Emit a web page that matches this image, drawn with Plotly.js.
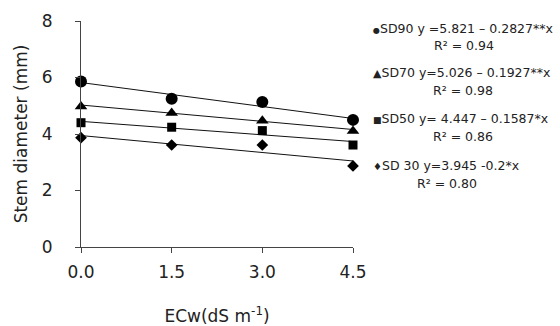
<!DOCTYPE html>
<html>
<head>
<meta charset="utf-8">
<script src="https://cdn.plot.ly/plotly-3.0.1.min.js"></script>
<style>html,body{margin:0;padding:0;background:#fff;}#chart{width:560px;height:326px;}</style>
</head>
<body>
<div id="chart"></div>
<script>
// ECw levels (dS m-1)
const ecw = [0, 1.5, 3.0, 4.5];
// Observed stem diameter (mm)
const sd90 = [5.86, 5.25, 5.13, 4.50];
const sd70 = [4.97, 4.74, 4.47, 4.11];
const sd50 = [4.40, 4.24, 4.12, 3.61];
const sd30 = [3.87, 3.61, 3.61, 2.87];
// Regression coefficients (y = a + b*x)
const intercepts = [5.821, 5.026, 4.447, 3.945];
const slopes = [-0.2827, -0.1927, -0.1587, -0.2];
// Equation labels
const bullets = ["●", "▲", "■", "♦"];
const eqLabels = [
  "SD90 y =5.821 – 0.2827**x",
  "SD70 y=5.026 – 0.1927**x",
  "SD50 y= 4.447 – 0.1587*x",
  "SD 30 y=3.945 -0.2*x"
];
const r2Labels = ["R² = 0.94", "R² = 0.98", "R² = 0.86", "R² = 0.80"];
const yTicks = [0, 2, 4, 6, 8];

const series = [sd90, sd70, sd50, sd30];
const symbols = ["circle", "triangle-up", "square", "diamond"];
const sizes = [12, 11, 9, 9];
const bulletSizes = [8, 11, 9, 10];
const FONT = "DejaVu Sans";

const traces = [];
const xEnds = [ecw[0], ecw[ecw.length - 1]];
for (let i = 0; i < series.length; i++) {
  traces.push({
    x: xEnds,
    y: xEnds.map(x => intercepts[i] + slopes[i] * x),
    mode: "lines",
    line: {color: "#111", width: 1},
    hoverinfo: "skip",
    cliponaxis: false,
    showlegend: false
  });
}
for (let i = 0; i < series.length; i++) {
  traces.push({
    x: ecw,
    y: series[i],
    mode: "markers",
    marker: {symbol: symbols[i], size: sizes[i], color: "#000"},
    cliponaxis: false,
    showlegend: false
  });
}

// legend block positions (pixels in the 560x326 image)
const plotL = 81, plotR = 353, plotT = 21, plotB = 247;
const px2x = px => (px - plotL) / (plotR - plotL);
const px2y = py => (plotB - py) / (plotB - plotT);
const line1Y = [28, 72, 118, 165];
const r2Center = [464, 463, 463, 447];

const annotations = [];
for (let i = 0; i < eqLabels.length; i++) {
  annotations.push({
    xref: "paper", yref: "paper",
    x: px2x(371), y: px2y(line1Y[i]),
    xanchor: "left", yanchor: "middle",
    text: '<span style="font-size:' + bulletSizes[i] + 'px">' + bullets[i] + '</span>' + eqLabels[i],
    showarrow: false,
    font: {family: FONT, size: 12.5, color: "#222"}
  });
  annotations.push({
    xref: "paper", yref: "paper",
    x: px2x(r2Center[i]), y: px2y(line1Y[i] + 18),
    xanchor: "center", yanchor: "middle",
    text: r2Labels[i], showarrow: false,
    font: {family: FONT, size: 12.5, color: "#222"}
  });
}

const layout = {
  width: 560, height: 326,
  margin: {l: plotL, r: 560 - plotR, t: plotT, b: 326 - plotB, pad: 0},
  paper_bgcolor: "#fff", plot_bgcolor: "#fff",
  font: {family: FONT, color: "#222"},
  xaxis: {
    range: [0, 4.5],
    tickvals: ecw, tickformat: ".1f",
    showgrid: false, zeroline: false,
    showline: true, linecolor: "#444", linewidth: 1,
    ticks: "outside", ticklen: 5, tickcolor: "#444",
    ticklabelstandoff: 5,
    tickfont: {family: FONT, size: 17, color: "#222"},
    title: {text: "ECw(dS m<sup>-1</sup>)", font: {family: FONT, size: 17, color: "#222"}, standoff: 29},
    automargin: false
  },
  yaxis: {
    range: [0, 8],
    tickvals: yTicks,
    showgrid: false, zeroline: false,
    showline: true, linecolor: "#444", linewidth: 1,
    ticks: "outside", ticklen: 5, tickcolor: "#444",
    ticklabelstandoff: 19,
    tickfont: {family: FONT, size: 17, color: "#222"},
    title: {text: "Stem diameter (mm)", font: {family: FONT, size: 17, color: "#222"}, standoff: 9},
    automargin: false
  },
  annotations: annotations,
  showlegend: false
};

Plotly.newPlot("chart", traces, layout, {displayModeBar: false, staticPlot: true});
</script>
</body>
</html>
